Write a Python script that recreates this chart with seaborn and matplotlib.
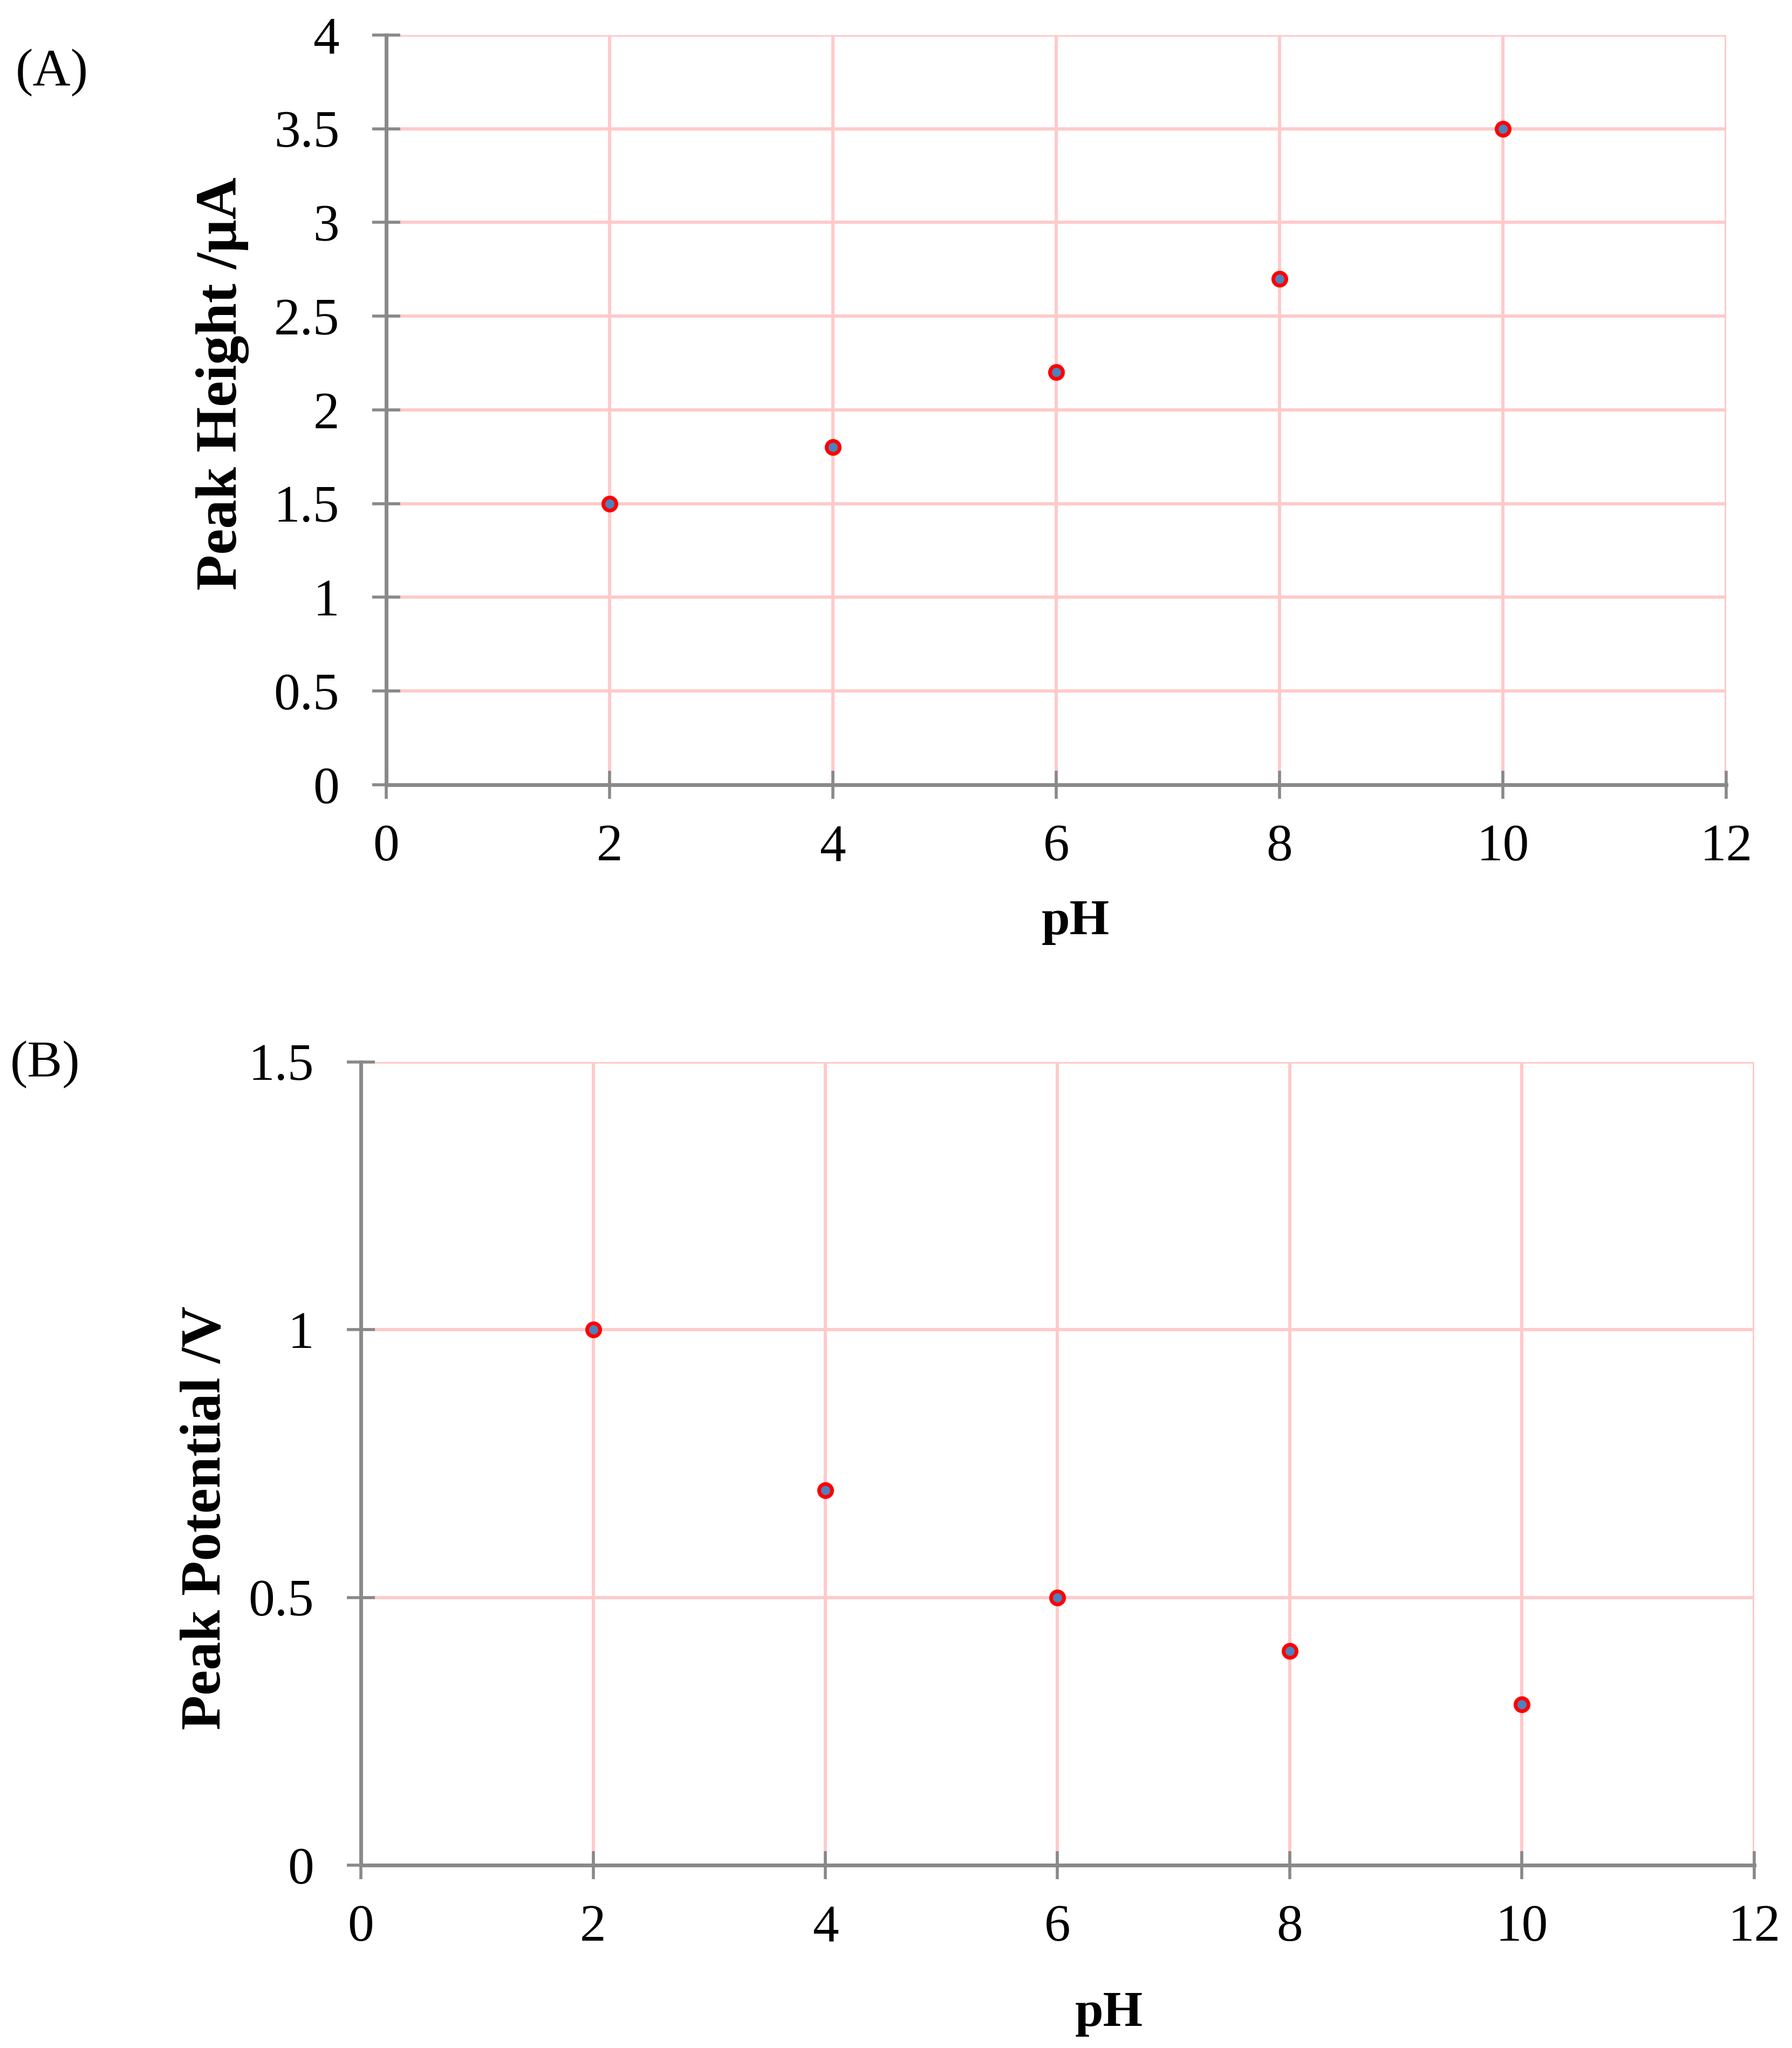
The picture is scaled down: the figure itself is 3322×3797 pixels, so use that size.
import matplotlib
matplotlib.use("Agg")
import matplotlib.pyplot as plt
import seaborn as sns
import pandas as pd

# data
ph = [2, 4, 6, 8, 10]
peak_height = [1.5, 1.8, 2.2, 2.7, 3.5]
peak_potential = [1.0, 0.7, 0.5, 0.4, 0.3]

x_ticks = [0, 2, 4, 6, 8, 10, 12]
height_ticks = [0, 0.5, 1, 1.5, 2, 2.5, 3, 3.5, 4]
potential_ticks = [0, 0.5, 1, 1.5]

df = pd.DataFrame({"pH": ph, "height": peak_height, "potential": peak_potential})

sns.set_theme(style="white")
plt.rcParams["font.family"] = ["Liberation Serif", "DejaVu Serif"]
plt.rcParams["text.color"] = "black"
plt.rcParams["axes.labelcolor"] = "black"

GRID = "#FFCACA"
SPINE = "#898989"
FILL = "#4F81BD"
EDGE = "#FF0000"

fig = plt.figure(figsize=(33.22, 37.97), dpi=100)
ax1 = fig.add_axes([0.2155, 0.6168, 0.7477, 0.3661])
ax2 = fig.add_axes([0.2014, 0.0893, 0.7775, 0.3922])


def style_axis(ax, yticks, ylim):
    ax.set_xlim(0, 12)
    ax.set_ylim(*ylim)
    ax.set_xticks(x_ticks)
    ax.set_yticks(yticks)
    ax.set_xticklabels([str(t) for t in x_ticks])
    ax.set_yticklabels([f"{t:g}" for t in yticks])
    ax.grid(True, color=GRID, linewidth=4.3, zorder=0)
    ax.set_axisbelow(True)
    for s in ["top", "right"]:
        ax.spines[s].set_visible(False)
    for s in ["left", "bottom"]:
        ax.spines[s].set_color(SPINE)
        ax.spines[s].set_linewidth(5)
        ax.spines[s].set_zorder(3)
    ax.tick_params(axis="both", direction="inout", length=37, width=4,
                   color=SPINE, labelsize=70, labelcolor="black",
                   bottom=True, left=True)
    ax.tick_params(axis="y", pad=44)
    ax.tick_params(axis="x", pad=34)


# (A) peak height vs pH
sns.scatterplot(data=df, x="pH", y="height", ax=ax1, s=300, color=FILL,
                edgecolor=EDGE, linewidth=5, zorder=5, clip_on=False)
style_axis(ax1, height_ticks, (0, 4))
ax1.set_xlabel("pH", fontsize=68, fontweight="bold", va="center")
ax1.set_ylabel("Peak Height /μA", fontsize=78, fontweight="bold", va="center")
ax1.xaxis.set_label_coords(0.5145, -0.183)
ax1.yaxis.set_label_coords(-0.122, 0.535)

# (B) peak potential vs pH
sns.scatterplot(data=df, x="pH", y="potential", ax=ax2, s=300, color=FILL,
                edgecolor=EDGE, linewidth=5, zorder=5, clip_on=False)
style_axis(ax2, potential_ticks, (0, 1.5))
ax2.set_xlabel("pH", fontsize=68, fontweight="bold", va="center")
ax2.set_ylabel("Peak Potential /V", fontsize=76, fontweight="bold", va="center")
ax2.xaxis.set_label_coords(0.537, -0.185)
ax2.yaxis.set_label_coords(-0.111, 0.432)

fig.text(0.029, 0.9644, "(A)", fontsize=70, ha="center", va="center")
fig.text(0.0253, 0.480, "(B)", fontsize=70, ha="center", va="center")

fig.savefig("out.png", dpi=100, facecolor="white")
